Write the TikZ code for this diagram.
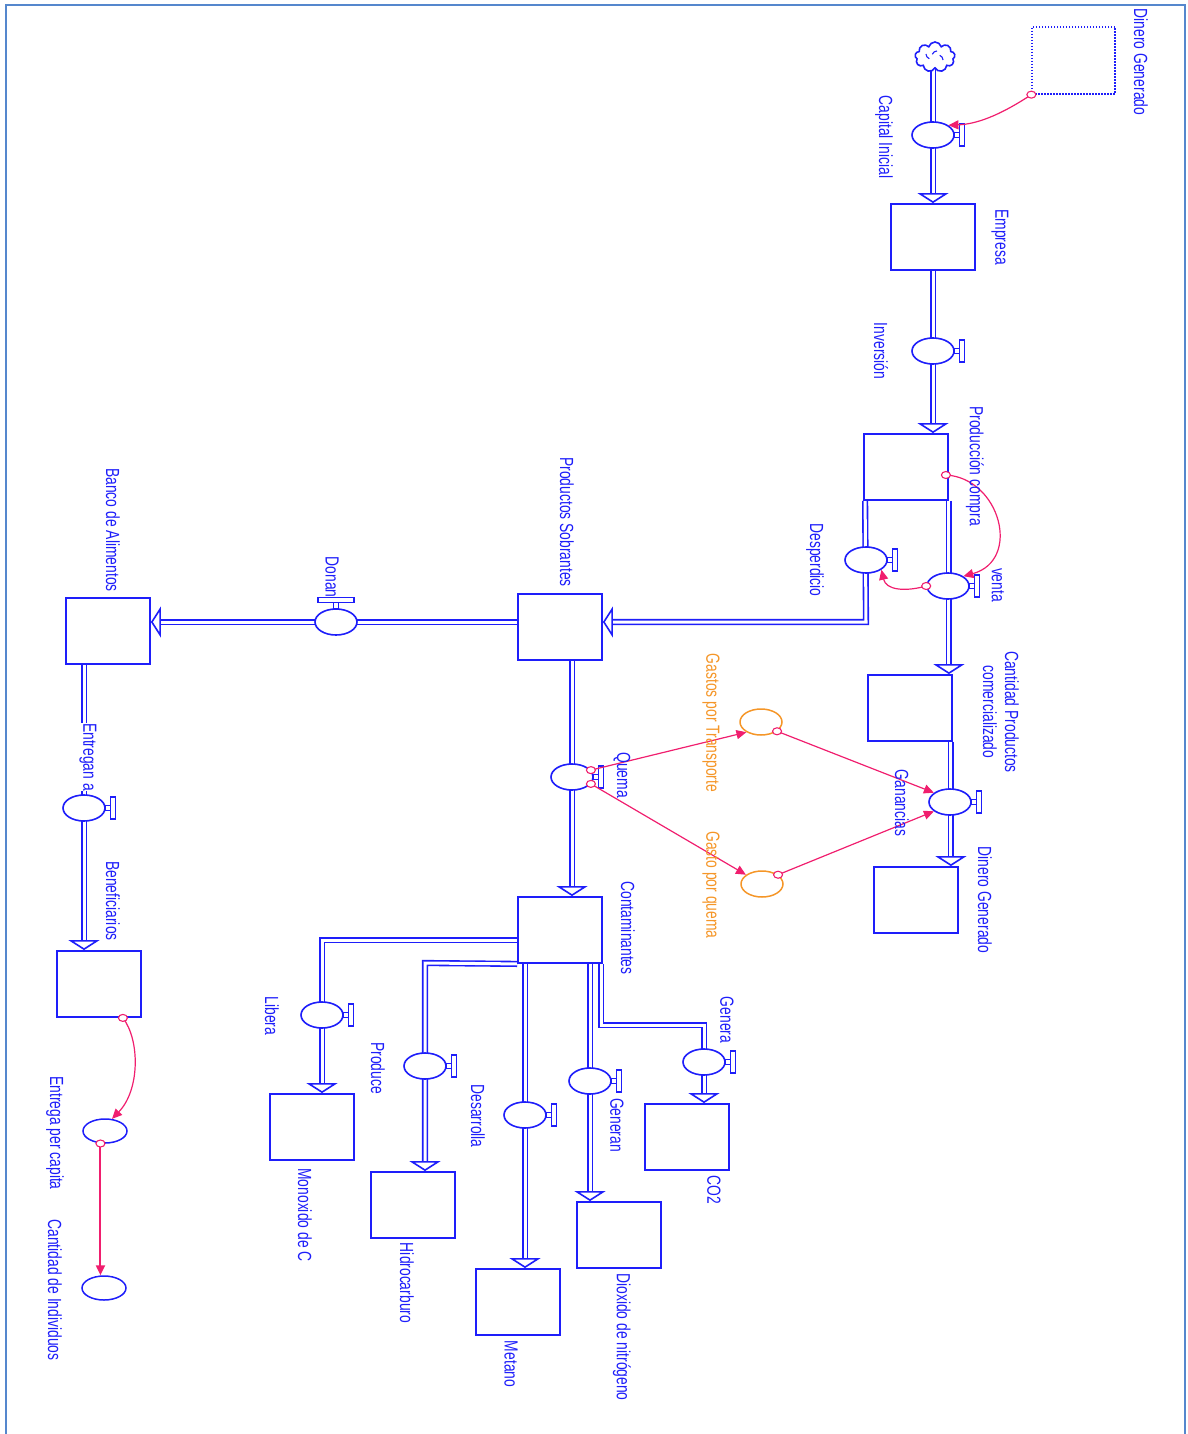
\documentclass[tikz,border=0pt]{standalone}
\usepackage{fontspec}
\setmainfont{Liberation Sans}
\usetikzlibrary{arrows.meta,shapes.geometric,shapes.symbols,calc}
\definecolor{vblue}{RGB}{30,30,250}
\definecolor{cpink}{RGB}{240,30,110}
\definecolor{vorange}{RGB}{245,150,40}
\definecolor{framec}{RGB}{85,135,205}
\pgfdeclarelayer{bg}
\pgfsetlayers{bg,main}
\newcommand\handR[1]{\begin{scope}[shift={(#1.east)}]\draw[handle] (0,-2.5) rectangle (5,2.5);\draw[handle] (5,-11) rectangle (10,11);\end{scope}}
\newcommand\handT[1]{\begin{scope}[shift={(#1.north)}]\draw[handle] (-2.5,0) rectangle (2.5,-6);\draw[handle] (-18,-6) rectangle (18,-11);\end{scope}}
\newcommand\cstart[1]{\draw[cpink,line width=1.1pt,fill=white] (#1) circle[x radius=4.5pt, y radius=3.5pt];}
\begin{document}
\begin{tikzpicture}[x=1pt,y=-1pt,
  stock/.style={draw=vblue, line width=1.8pt, fill=white, minimum width=84pt, minimum height=66pt, inner sep=0pt},
  valve/.style={ellipse, draw=vblue, line width=1.6pt, fill=white, minimum width=42pt, minimum height=26pt, inner sep=0pt},
  auxo/.style={ellipse, draw=vorange, line width=1.5pt, fill=white, minimum width=42pt, minimum height=26pt, inner sep=0pt},
  auxb/.style={ellipse, draw=vblue, line width=1.5pt, fill=white, minimum width=44pt, minimum height=24pt, inner sep=0pt},
  lbl/.style={text=vblue, rotate=-90, xscale=0.73, font=\fontsize{19}{22}\selectfont, inner sep=0pt, align=center},
  olbl/.style={lbl, text=vorange},
  pipe/.style={draw=vblue, line width=1.6pt, double=white, double distance=3pt},
  pipeto/.style={pipe, -{Triangle[width=31pt, length=10pt, fill=white, line width=1.6pt]}},
  conn/.style={draw=cpink, line width=1.2pt, -{Triangle[width=9pt,length=10pt]}},
  handle/.style={draw=vblue, line width=1.3pt, fill=white}
]
\useasboundingbox (0,0) rectangle (1187,1434);
\draw[framec, line width=2.5pt] (6,1434) -- (6,5) -- (1185,5) -- (1185,1434);

% stocks, valves, auxiliaries
\node[stock, dash pattern=on 1.5pt off 1.5pt, line width=1.3pt, minimum width=83pt, minimum height=67pt] (dgs) at (1073.5,60.5) {};
\node[cloud, cloud puffs=9, aspect=1.4, draw=vblue, line width=1.6pt, fill=white, minimum width=40pt, minimum height=30pt, inner sep=0pt] (cloud) at (935,57) {};
\node[valve] (vcap) at (933,135) {};
\node[stock] (emp) at (933,237) {};
\node[valve] (vinv) at (933,351) {};
\node[stock] (prod) at (906,467) {};
\node[valve] (vdes) at (866,560) {};
\node[valve] (vven) at (948,586) {};
\node[stock] (cant) at (910,708) {};
\node[valve] (vgan) at (950,802) {};
\node[stock] (dg) at (916,900) {};
\node[auxo] (gtr) at (761,722) {};
\node[auxo] (gq) at (762,884) {};
\node[stock] (ps) at (560,627) {};
\node[valve] (vque) at (572,777) {};
\node[stock] (cont) at (560,930) {};
\node[valve] (vdon) at (336,622) {};
\node[stock] (banco) at (108,631) {};
\node[valve] (vent) at (84,808) {};
\node[stock] (ben) at (99,984) {};
\node[auxb] (epc) at (105,1131) {};
\node[auxb] (cdi) at (104,1288) {};
\node[valve] (vlib) at (322,1015) {};
\node[stock] (mono) at (312,1127) {};
\node[valve] (vpro) at (425,1066) {};
\node[stock] (hidro) at (413,1205) {};
\node[valve] (vdesa) at (525,1115) {};
\node[stock] (met) at (518,1302) {};
\node[valve] (vgen) at (590,1081) {};
\node[stock] (dio) at (619,1235) {};
\node[valve] (vgena) at (704,1062) {};
\node[stock] (co2) at (687,1137) {};

\foreach \v in {vcap,vinv,vdes,vven,vgan,vque,vent,vlib,vpro,vdesa,vgen,vgena} {\handR{\v}}
\handT{vdon}

% cloud inner marks
\draw[vblue, line width=1.1pt] ([xshift=-9pt,yshift=3pt]cloud.center) arc[start angle=180, end angle=250, radius=5pt];
\draw[vblue, line width=1.1pt] ([xshift=8pt,yshift=-3pt]cloud.center) arc[start angle=0, end angle=70, radius=5pt];
\draw[vblue, line width=1.1pt] ([xshift=2pt,yshift=6pt]cloud.center) arc[start angle=90, end angle=160, radius=5pt];

% pipes
\coordinate (dj) at (866,622);
\coordinate (lb) at (322,940);
\coordinate (pb) at (425,963);
\coordinate (gb) at (601,1025);
\begin{pgfonlayer}{bg}
\draw[pipeto] (emp.north |- cloud.south) -- (emp.north);
\draw[pipeto] (emp.south) -- (emp.south |- prod.north);
\draw[pipeto] (prod.south east) -- (prod.south east |- cant.north);
\draw[pipeto] ([xshift=2pt]prod.south west) -- (dj) -- (dj -| ps.east);
\draw[pipeto] ([xshift=-2pt]cant.south east) -- ([xshift=-2pt]cant.south east |- dg.north);
\draw[pipeto] ([yshift=5pt]ps.west) -- ([yshift=5pt]ps.west -| banco.east);
\draw[pipeto] (vent |- banco.south) -- (vent |- ben.north);
\draw[pipeto] (vque |- ps.south) -- (vque |- cont.north);
\draw[pipeto] (lb -| cont.west) -- (lb) -- (lb |- mono.north);
\draw[pipeto] (cont.south west) -- (pb) -- (pb |- hidro.north);
\draw[pipeto] (vdesa |- cont.south) -- (vdesa |- met.north);
\draw[pipeto] (vgen |- cont.south) -- (vgen |- dio.north);
\draw[pipeto] (gb |- cont.south) -- (gb) -- (gb -| vgena) -- (vgena |- co2.north);
\end{pgfonlayer}

% connectors
\coordinate (c2s) at ([xshift=-3pt,yshift=-8pt]prod.east);
\coordinate (c8s) at ([xshift=-19pt]ben.south east);
\draw[conn] (dgs.south west) .. controls (1005,112) and (980,124) .. (vcap.north east);
\draw[conn] (c2s) .. controls (1000,478) and (1022,560) .. (vven.north east);
\draw[conn] (vven.west) .. controls (905,592) and (886,590) .. (vdes.south east);
\draw[conn] (vque.20) -- (gtr.215);
\draw[conn] (vque.-20) -- (gq.150);
\draw[conn] (gtr.-30) -- (vgan.150);
\draw[conn] (gq.30) -- (vgan.210);
\draw[conn] (c8s) .. controls (140,1040) and (140,1090) .. (epc.60);
\draw[conn, line width=2pt] (epc.250) -- (epc.250 |- cdi.north);
\cstart{dgs.south west}
\cstart{c2s}
\cstart{vven.west}
\cstart{vque.20}
\cstart{vque.-20}
\cstart{gtr.-30}
\cstart{gq.30}
\cstart{c8s}
\cstart{epc.250}

% labels
\node[lbl] (l1) at (1141,62) {Dinero Generado};
\node[lbl] (l2) at (884,137) {Capital Inicial};
\node[lbl] (l3) at (1000,237) {Empresa};
\node[lbl] (l4) at (881,351) {Inversión};
\node[lbl] (l5) at (975,466) {Producción compra};
\node[lbl] (l6) at (815,560) {Desperdicio};
\node[lbl] (l7) at (998,585) {venta};
\node[lbl] (l8) at (1001,712) {Cantidad Productos\\comercializado};
\node[lbl] (l9) at (902,803) {Ganancias};
\node[lbl] (l10) at (985,900) {Dinero Generado};
\node[olbl] (l11) at (711,723) {Gastos por Transporte};
\node[olbl] (l12) at (711,885) {Gasto por quema};
\node[lbl] (l13) at (567,522) {Productos Sobrantes};
\node[lbl] (l14) at (622,775) {Quema};
\node[lbl] (l15) at (628,928) {Contaminantes};
\node[lbl] (l16) at (332,577) {Donan};
\node[lbl] (l17) at (113,530) {Banco de Alimentos};
\node[lbl, fill=white] (l18) at (88,757) {Entregan a};
\node[lbl] (l19) at (113,901) {Beneficiarios};
\node[lbl] (l20) at (55,1133) {Entrega per capita};
\node[lbl] (l21) at (55,1290) {Cantidad de Individuos};
\node[lbl] (l22) at (272,1016) {Libera};
\node[lbl] (l23) at (305,1215) {Monoxido de C};
\node[lbl] (l24) at (378,1068) {Produce};
\node[lbl] (l25) at (407,1283) {Hidrocarburo};
\node[lbl] (l26) at (478,1116) {Desarrolla};
\node[lbl] (l27) at (511,1364) {Metano};
\node[lbl] (l28) at (617,1125) {Generan};
\node[lbl] (l29) at (622,1337) {Dioxido de nitrógeno};
\node[lbl] (l30) at (727,1020) {Genera};
\node[lbl] (l31) at (714,1190) {CO2};
\end{tikzpicture}
\end{document}
